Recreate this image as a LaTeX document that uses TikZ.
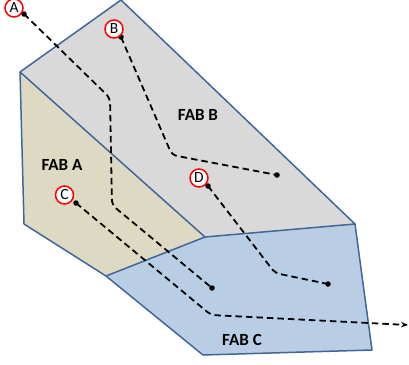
\documentclass[tikz,border=0pt]{standalone}
\usepackage{fontspec}
\setmainfont{Carlito}
\usetikzlibrary{arrows.meta}
\definecolor{edgeblue}{HTML}{41669A}
\definecolor{fabBc}{HTML}{D9D9D9}
\definecolor{fabAc}{HTML}{DDD9C3}
\definecolor{fabCc}{HTML}{B9CDE5}
\begin{document}
\begin{tikzpicture}[x=1pt,y=-1pt,
  face/.style={draw=edgeblue,line width=1.5pt,line join=round},
  route/.style={dash pattern=on 6.5pt off 4pt,line width=1.8pt,rounded corners=5pt},
  dotpt/.style={circle,fill=black,inner sep=0pt,minimum size=5.5pt},
  tag/.style={circle,draw=red,fill=white,line width=1.5pt,inner sep=0pt,minimum size=18pt,font=\fontsize{15.5}{15.5}\selectfont},
  lab/.style={font=\bfseries\fontsize{17}{17}\selectfont}]
\useasboundingbox (0,0) rectangle (409,364);
% faces
\fill[fabBc] (20,72) -- (121,0) -- (355,224) -- (205,237) -- cycle;
\fill[fabAc] (20,72) -- (205,237) -- (106,276) -- (24,224) -- cycle;
\fill[fabCc] (106,276) -- (205,237) -- (355,224) -- (372,350) -- (203,355) -- cycle;
\draw[face] (20,72) -- (121,0) -- (355,224) -- (372,350) -- (203,355) -- (106,276) -- (24,224) -- cycle;
\draw[face] (20,72) -- (205,237) -- (355,224);
\draw[face] (205,237) -- (106,276);
% labels
\node[lab] (labB) at (198,115) {FAB B};
\node[lab] (labA) at (62,165) {FAB A};
\node[lab] (labC) at (242,340) {FAB C};
% points
\node[dotpt] (pA) at (24,14) {};
\node[dotpt] (pB) at (121,37) {};
\node[dotpt] (pC) at (76,203) {};
\node[dotpt] (pD) at (208,186) {};
\node[dotpt] (eA) at (212,288) {};
\node[dotpt] (eB) at (277,175) {};
\node[dotpt] (eD) at (328,284) {};
\coordinate (eC) at (408,325);
% routes
\draw[route] (pA.center) -- (110,98) -- (112,205) -- (eA.center);
\draw[route] (pB.center) -- (172,155) -- (eB.center);
\draw[route,-{Stealth[length=7pt,width=5.5pt]}] (pC.center) -- (211,315) -- (eC);
\draw[route] (pD.center) -- (275,273) -- (eD.center);
% tags
\node[tag] (tA) at (14,8) {A};
\node[tag] (tB) at (114,29) {B};
\node[tag] (tC) at (64.5,195) {C};
\node[tag] (tD) at (199,178) {D};
\end{tikzpicture}
\end{document}
